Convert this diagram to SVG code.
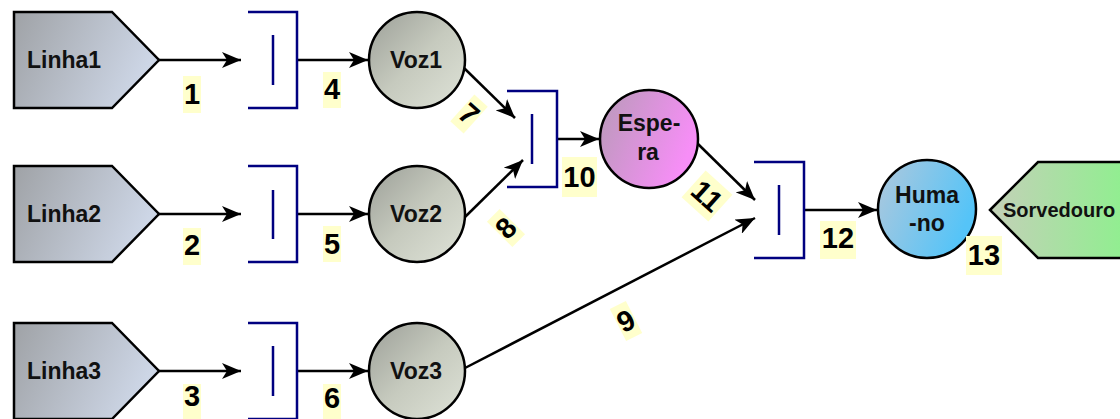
<svg xmlns="http://www.w3.org/2000/svg" width="1120" height="419" viewBox="0 0 1120 419">
<defs>
<linearGradient id="gLinha" x1="0" y1="0" x2="1" y2="0.3">
<stop offset="0" stop-color="#9fa2a6"/><stop offset="1" stop-color="#cdd6e6"/>
</linearGradient>
<linearGradient id="gVoz" x1="0" y1="0" x2="1" y2="1">
<stop offset="0" stop-color="#9c9f98"/><stop offset="0.5" stop-color="#c6cabe"/><stop offset="1" stop-color="#dfe3d8"/>
</linearGradient>
<linearGradient id="gEspera" x1="0" y1="0" x2="1" y2="0.4">
<stop offset="0" stop-color="#b89ab8"/><stop offset="1" stop-color="#f78ef7"/>
</linearGradient>
<linearGradient id="gHumano" x1="0" y1="0" x2="1" y2="0.4">
<stop offset="0" stop-color="#b0c8dc"/><stop offset="1" stop-color="#55c4f8"/>
</linearGradient>
<linearGradient id="gSorv" x1="0" y1="0" x2="1" y2="0">
<stop offset="0" stop-color="#c4d0b8"/><stop offset="1" stop-color="#8ef08e"/>
</linearGradient>
<marker id="arr" markerWidth="19" markerHeight="16" refX="19" refY="8" orient="auto" markerUnits="userSpaceOnUse">
<path d="M0,0 L19,8 L0,16 L5,8 Z" fill="#000"/>
</marker>
<style>
.node{stroke:#000;stroke-width:2.5}
.lbl{font-family:"Liberation Sans",Arial,sans-serif;font-weight:bold;font-size:23px;fill:#111}
.num{font-family:"Liberation Sans",Arial,sans-serif;font-weight:bold;font-size:29px;fill:#000;text-anchor:middle}
.nb{fill:#ffffcc}
.q{fill:none;stroke:#000080;stroke-width:2.5}
.c{fill:none;stroke:#000;stroke-width:2.5;marker-end:url(#arr)}
</style>
</defs>
<rect width="1120" height="419" fill="#fff"/>

<g id="connectors">
<line class="c" x1="159" y1="60" x2="241" y2="60"/>
<line class="c" x1="159" y1="214" x2="241" y2="214"/>
<line class="c" x1="159" y1="371" x2="241" y2="371"/>
<line class="c" x1="297" y1="60" x2="368" y2="60"/>
<line class="c" x1="297" y1="214" x2="368" y2="214"/>
<line class="c" x1="297" y1="371" x2="368" y2="371"/>
<line class="c" x1="464" y1="68" x2="515" y2="118"/>
<line class="c" x1="465" y1="217" x2="523" y2="160"/>
<line class="c" x1="557" y1="139" x2="599" y2="139"/>
<line class="c" x1="697" y1="143" x2="755" y2="200"/>
<line class="c" x1="465" y1="368" x2="755" y2="218"/>
<line class="c" x1="804" y1="210" x2="877" y2="210"/>
</g>

<g id="linha1">
<polygon class="node" points="14,12 112,12 159,60 112,108 14,108" fill="url(#gLinha)"/>
<text class="lbl" x="27" y="68">Linha1</text>
</g>
<g id="linha2">
<polygon class="node" points="14,166 112,166 159,214 112,262 14,262" fill="url(#gLinha)"/>
<text class="lbl" x="27" y="222">Linha2</text>
</g>
<g id="linha3">
<polygon class="node" points="14,323 112,323 159,371 112,419 14,419" fill="url(#gLinha)"/>
<text class="lbl" x="27" y="379">Linha3</text>
</g>

<g id="fila1">
<polyline class="q" points="248,12 297,12 297,108 248,108"/>
<line class="q" x1="273" y1="35" x2="273" y2="85"/>
</g>
<g id="fila2">
<polyline class="q" points="248,166 297,166 297,262 248,262"/>
<line class="q" x1="273" y1="190" x2="273" y2="239"/>
</g>
<g id="fila3">
<polyline class="q" points="248,323 297,323 297,419 248,419"/>
<line class="q" x1="273" y1="346" x2="273" y2="396"/>
</g>

<g id="voz1">
<circle class="node" cx="417" cy="60" r="48" fill="url(#gVoz)"/>
<text class="lbl" x="416" y="68" text-anchor="middle">Voz1</text>
</g>
<g id="voz2">
<circle class="node" cx="417" cy="214" r="48" fill="url(#gVoz)"/>
<text class="lbl" x="416" y="222" text-anchor="middle">Voz2</text>
</g>
<g id="voz3">
<circle class="node" cx="417" cy="371" r="48" fill="url(#gVoz)"/>
<text class="lbl" x="416" y="379" text-anchor="middle">Voz3</text>
</g>

<g id="fila4">
<polyline class="q" points="507,91 557,91 557,187 507,187"/>
<line class="q" x1="532" y1="114" x2="532" y2="164"/>
</g>

<g id="espera">
<circle class="node" cx="649" cy="139" r="49" fill="url(#gEspera)"/>
<text class="lbl" x="649" y="131" text-anchor="middle">Espe-</text>
<text class="lbl" x="648" y="160" text-anchor="middle">ra</text>
</g>

<g id="fila5">
<polyline class="q" points="754,162 804,162 804,258 754,258"/>
<line class="q" x1="779" y1="185" x2="779" y2="235"/>
</g>

<g id="humano">
<circle class="node" cx="927" cy="209" r="49" fill="url(#gHumano)"/>
<text class="lbl" x="927" y="203" text-anchor="middle">Huma</text>
<text class="lbl" x="927" y="231" text-anchor="middle">-no</text>
</g>

<g id="sorvedouro">
<polygon class="node" points="990,210 1038,162 1130,162 1130,258 1038,258" fill="url(#gSorv)"/>
<text class="lbl" x="1003" y="217" style="font-size:20px">Sorvedouro</text>
</g>

<g id="labels">
<rect class="nb" x="183" y="76" width="18" height="37"/><text class="num" x="192" y="104">1</text>
<rect class="nb" x="183" y="228" width="18" height="37"/><text class="num" x="192" y="255">2</text>
<rect class="nb" x="183" y="384" width="18" height="35"/><text class="num" x="192" y="406">3</text>
<rect class="nb" x="323" y="72" width="18" height="36"/><text class="num" x="332" y="99">4</text>
<rect class="nb" x="323" y="226" width="18" height="36"/><text class="num" x="332" y="254">5</text>
<rect class="nb" x="323" y="384" width="18" height="35"/><text class="num" x="332" y="408">6</text>
<g transform="translate(469,114) rotate(42)"><rect class="nb" x="-9" y="-18" width="18" height="36"/><text class="num" x="0" y="10">7</text></g>
<g transform="translate(506,228) rotate(-45)"><rect class="nb" x="-9" y="-18" width="18" height="36"/><text class="num" x="0" y="10">8</text></g>
<g transform="translate(626,321) rotate(-27)"><rect class="nb" x="-9" y="-18" width="18" height="36"/><text class="num" x="0" y="10">9</text></g>
<rect class="nb" x="562" y="157" width="35" height="40"/><text class="num" x="579.5" y="187">10</text>
<g transform="translate(707,196) rotate(42)"><rect class="nb" x="-18" y="-18" width="36" height="36"/><text class="num" x="0" y="10">11</text></g>
<rect class="nb" x="820" y="221" width="36" height="38"/><text class="num" x="838" y="248">12</text>
<rect class="nb" x="966" y="236" width="36" height="39"/><text class="num" x="984" y="265">13</text>
</g>
</svg>
